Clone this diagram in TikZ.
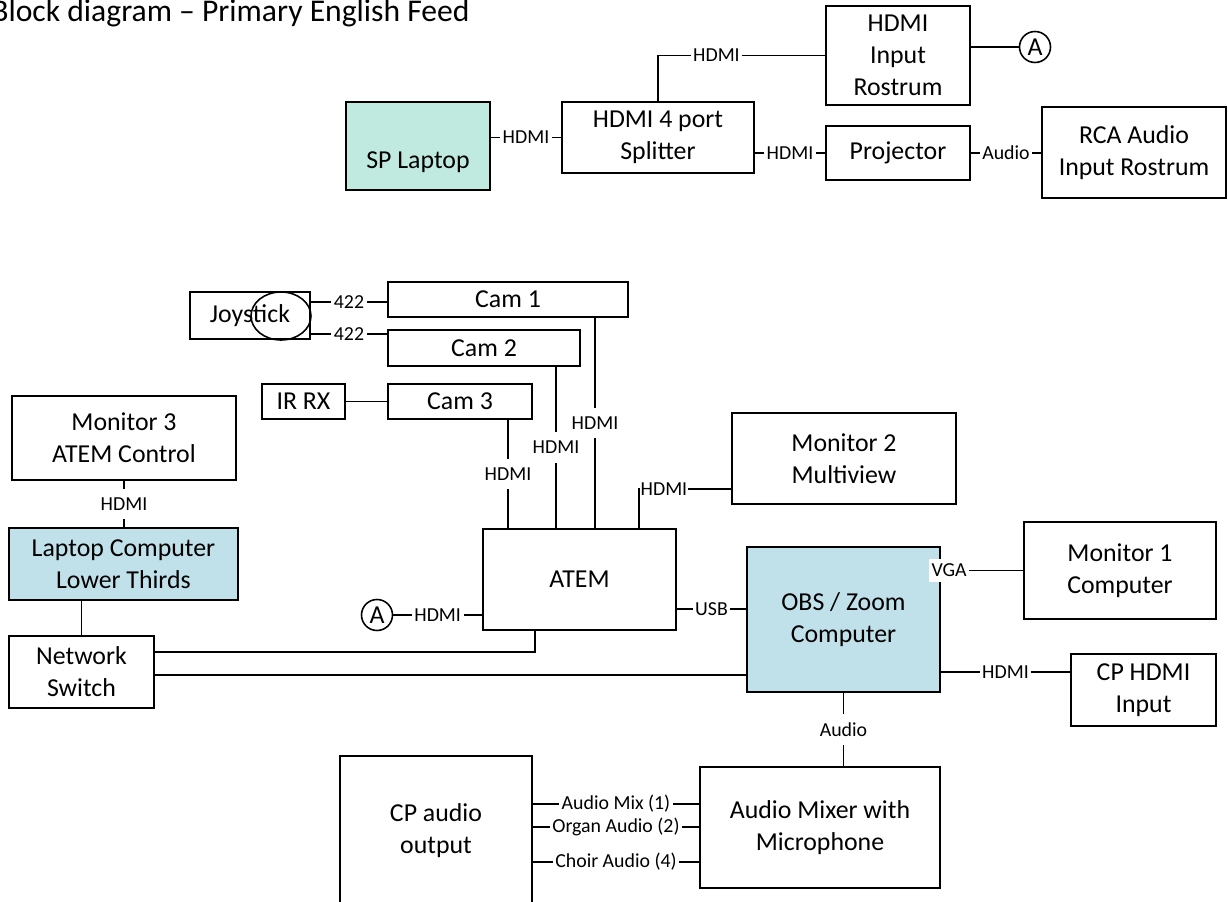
\documentclass[tikz,border=0pt]{standalone}
\usepackage{fontspec}
\setmainfont{Carlito}
\usetikzlibrary{calc}
\newlength\pxu
\setlength\pxu{0.02cm}
\definecolor{laptopgreen}{HTML}{C0EAE0}
\definecolor{pcblue}{HTML}{C0E0EA}
\newcommand\boxfont{\fontsize{14.7}{18.1}\selectfont}
\newcommand\lblfont{\fontsize{11.3}{13}\selectfont}

\begin{document}
\begin{tikzpicture}[x=0.02cm, y=-0.02cm,
  box/.style={draw, line width=1.1pt, align=center, inner sep=0pt, font=\boxfont},
  wire/.style={line width=0.9pt},
  lbl/.style={fill=white, font=\lblfont, inner xsep=1.5pt, inner ysep=0.5pt},
  vlbl/.style={lbl, inner ysep=5pt},
  plug/.style={draw, circle, line width=0.9pt, inner sep=0pt, minimum size=31\pxu, font=\boxfont}]
\useasboundingbox (0,0) rectangle (1228,902);

\node[anchor=base west, inner sep=0pt, font=\fontsize{18}{22}\selectfont] (title) at (-9,22) {Block diagram – Primary English Feed};

% presentation side
\node[box, fill=laptopgreen, minimum width=144\pxu, minimum height=88\pxu] (sp) at (418,146) {\raisebox{-16\pxu}[\height][\depth]{SP Laptop}};
\node[box, minimum width=192\pxu, minimum height=71\pxu] (split) at (658,137.5) {HDMI 4 port\\Splitter};
\node[box, minimum width=144\pxu, minimum height=99\pxu] (rost) at (898,55.5) {HDMI\\Input\\Rostrum};
\node[plug] (a1) at (1035,47) {A};
\node[box, minimum width=144\pxu, minimum height=54\pxu] (proj) at (898,153) {Projector};
\node[box, minimum width=184\pxu, minimum height=91\pxu] (rca) at (1134,152.5) {RCA Audio\\Input Rostrum};

% cameras
\node[box, minimum width=120\pxu, minimum height=47\pxu] (joy) at (250,315.5) {Joystick};
\draw[wire] (281,316) ellipse [x radius=30, y radius=24];
\node[box, minimum width=240\pxu, minimum height=35\pxu] (cam1) at (508,299.5) {Cam 1};
\node[box, minimum width=192\pxu, minimum height=36\pxu] (cam2) at (484,348) {Cam 2};
\node[box, minimum width=83\pxu, minimum height=35\pxu] (irrx) at (303.5,401.5) {IR RX};
\node[box, minimum width=144\pxu, minimum height=35\pxu] (cam3) at (460,401.5) {Cam 3};

% control and streaming
\node[box, minimum width=224\pxu, minimum height=84\pxu] (mon3) at (124,438) {Monitor 3\\ATEM Control};
\node[box, fill=pcblue, minimum width=229\pxu, minimum height=72\pxu] (lap) at (123.5,564) {Laptop Computer\\Lower Thirds};
\node[box, minimum width=145\pxu, minimum height=72\pxu] (sw) at (81.5,672) {Network\\Switch};
\node[box, minimum width=193\pxu, minimum height=101\pxu] (atem) at (579.5,579.5) {ATEM};
\node[plug] (a2) at (377,615) {A};
\node[box, minimum width=224\pxu, minimum height=91\pxu] (mon2) at (844,458.5) {Monitor 2\\Multiview};
\node[box, fill=pcblue, minimum width=193\pxu, minimum height=145\pxu] (obs) at (843.5,619.5) {OBS / Zoom\\Computer};
\node[box, minimum width=192\pxu, minimum height=97\pxu] (mon1) at (1120,570.5) {Monitor 1\\Computer};
\node[box, minimum width=145\pxu, minimum height=72\pxu] (cphdmi) at (1143.5,690) {CP HDMI\\Input};
\node[box, minimum width=240\pxu, minimum height=121\pxu] (mixer) at (820,827.5) {Audio Mixer with\\Microphone};
\node[box, minimum width=192\pxu, minimum height=150\pxu] (cpout) at (436,831) {CP audio\\output};

\draw[wire] (split.west -| sp.east) -- (split.west) node[lbl, midway] {HDMI};
\draw[wire] (split.north) |- (rost.west) node[lbl, pos=0.675] {HDMI};
\draw[wire] (a1.west -| rost.east) -- (a1.west);
\draw[wire] (proj.west -| split.east) -- (proj.west) node[lbl, midway] {HDMI};
\draw[wire] (proj.east) -- (proj.east -| rca.west) node[lbl, midway] {Audio};

\draw[wire] (joy.north east) ++(0,11) coordinate (j1) -- (cam1.west |- j1) node[lbl, midway] {422};
\draw[wire] (joy.south east) ++(0,-6) coordinate (j2) -- (cam2.west |- j2) node[lbl, midway] {422};
\draw[wire] (irrx) -- (cam3);
\draw[wire] (cam3.south) ++(48,0) coordinate (c3) -- (atem.north -| c3) node[vlbl, midway] {HDMI};
\draw[wire] (cam2.south) ++(72,0) coordinate (c2) -- (atem.north -| c2) node[vlbl, midway] {HDMI};
\draw[wire] (cam1.south) ++(87,0) coordinate (c1) -- (atem.north -| c1) node[vlbl, midway] {HDMI};
\draw[wire] (atem.north) ++(59.5,0) |- ($(mon2.south west)+(0,-16)$) node[lbl, pos=0.5, anchor=west, inner xsep=0.5pt] {HDMI};

\draw[wire] (mon3.south) -- (mon3.south |- lap.north) node[vlbl, midway] {HDMI};
\draw[wire] (sw.north) -- (sw.north |- lap.south);
\draw[wire] (a2.east) -- (atem.west |- a2) node[lbl, midway] {HDMI};
\draw[wire] (atem.south east) ++(0,-22) coordinate (u1) -- (obs.west |- u1) node[lbl, midway] {USB};
\draw[wire] (atem.south) ++(-44.5,0) |- ($(sw.north east)+(0,17)$);
\draw[wire] (sw.east) ++(0,3) coordinate (s2) -- (obs.west |- s2);

\draw[wire] (obs.east |- mon1.west) -- (mon1.west) node[lbl, inner ysep=3pt, pos=0.1] {VGA};
\draw[wire] (cphdmi.north west) ++(0,19) coordinate (h1) -- (obs.east |- h1) node[lbl, midway] {HDMI};
\draw[wire] (obs.south) -- (obs.south |- mixer.north) node[vlbl, midway] {Audio};
\foreach \dy/\txt in {38/Audio Mix (1), 61/Organ Audio (2), 96/Choir Audio (4)}
  \draw[wire] (mixer.north west) ++(0,\dy) coordinate (m) -- (cpout.east |- m) node[lbl, midway] {\txt};
\end{tikzpicture}
\end{document}
